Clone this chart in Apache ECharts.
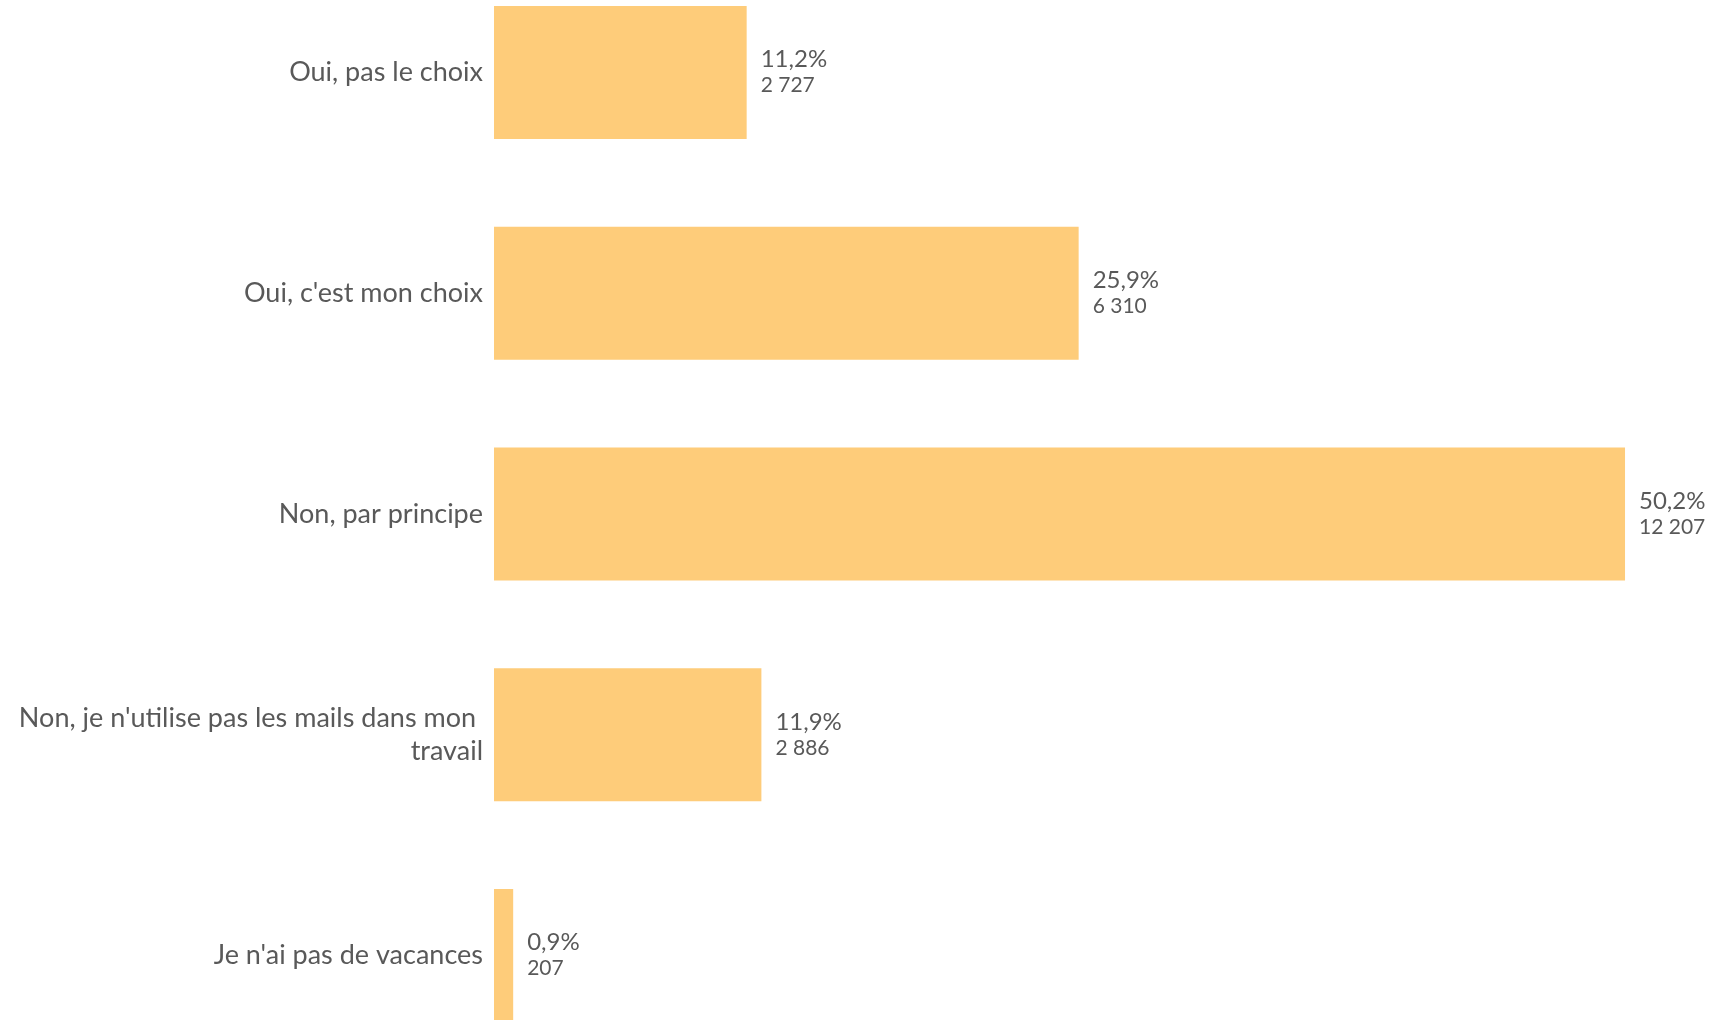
<!DOCTYPE html>
<html>
<head>
<meta charset="utf-8">
<script src="https://cdn.jsdelivr.net/npm/echarts@6/dist/echarts.min.js"></script>
<style>
html,body{margin:0;padding:0;background:#fff;overflow:hidden;width:1711px;height:1020px;position:relative;}
#chart{position:absolute;left:0;top:-38px;width:1711px;height:1104px;}
</style>
</head>
<body>
<div id="chart"></div>
<script>
const categories = ["Oui, pas le choix", "Oui, c'est mon choix", "Non, par principe", "Non, je n'utilise pas les mails dans mon \ntravail", "Je n'ai pas de vacances"];
const counts = [2727, 6310, 12207, 2886, 207];
const percentLabels = ["11,2%", "25,9%", "50,2%", "11,9%", "0,9%"];
const countLabels = ["2 727", "6 310", "12 207", "2 886", "207"];

const FONT = 'Lato';
const chart = echarts.init(document.getElementById('chart'));
chart.setOption({
  animation: false,
  backgroundColor: '#ffffff',
  grid: { left: 494, width: 1204.5, top: 0, height: 1104, containLabel: false },
  xAxis: {
    type: 'value', min: 0, max: 13000, show: false
  },
  yAxis: {
    type: 'category', data: categories, inverse: true,
    axisLine: { show: false }, axisTick: { show: false }, splitLine: { show: false },
    axisLabel: { fontFamily: FONT, fontSize: 27, color: '#595959', margin: 11, lineHeight: 33, align: 'right' }
  },
  series: [{
    type: 'bar',
    data: counts,
    barWidth: 133,
    itemStyle: { color: '#FECC7A' },
    label: {
      show: true, position: 'right', distance: 14,
      formatter: function (p) { return '{p|' + percentLabels[p.dataIndex] + '}\n{c|' + countLabels[p.dataIndex] + '}'; },
      rich: {
        p: { fontFamily: FONT, fontSize: 24, color: '#595959', lineHeight: 26 },
        c: { fontFamily: FONT, fontSize: 21, color: '#595959', lineHeight: 26 }
      }
    }
  }]
});
</script>
</body>
</html>
